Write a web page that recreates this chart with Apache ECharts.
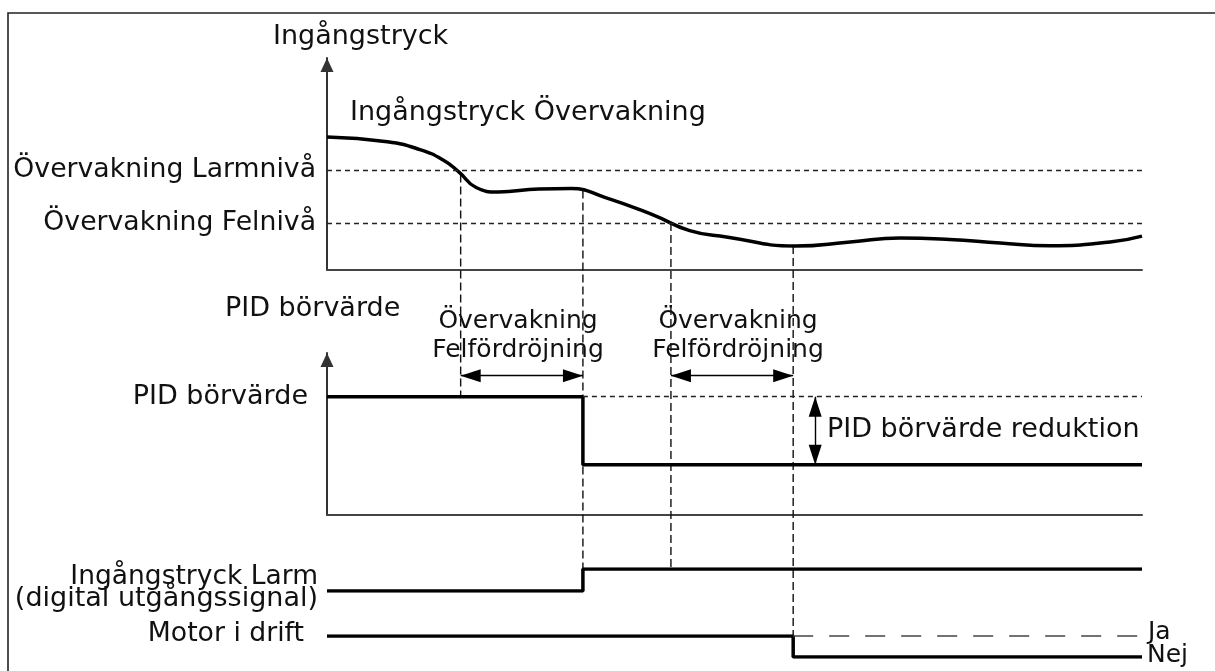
<!DOCTYPE html>
<html>
<head>
<meta charset="utf-8">
<script src="https://cdn.jsdelivr.net/npm/echarts@6/dist/echarts.min.js"></script>
<style>
  html, body { margin: 0; background: #fff; }
  #main { width: 1215px; height: 671px; }
</style>
</head>
<body>
<div id="main"></div>
<script>
// tidsaxel 0..100 (godtyckliga enheter)
// ingångstryck (0..100)
const tryckTid   = [0, 7.4, 11.4, 14.2, 16.2, 18.3, 21.0, 26.0, 30.0, 34.0, 40.0, 44.5, 49.0, 57.5, 64.2, 70.3, 76.4, 82.6, 88.7, 96.1, 100];
const tryckVarde = [62.7, 60.5, 56.8, 52.0, 46.2, 38.9, 36.8, 38.2, 38.4, 34.4, 26.0, 18.6, 15.6, 11.3, 13.2, 15.1, 14.4, 12.7, 11.4, 13.2, 16.0];
const larmniva = 47.2;
const felniva = 22.2;

// händelser (larmnivå passeras, larm, felnivå passeras, stopp)
const haendelseTid = [16.4, 31.4, 42.2, 57.2];
const haendelseTryck = [45.0, 37.5, 22.2, 11.3];

// PID börvärde (0..100)
const pidTid   = [0, 31.4, 100];
const pidVarde = [73, 31, 31];
const pidPilNiva = 86;
const reduktionTid = 59.9;

// digitala signaler
const larmTid   = [0, 31.4, 100];
const larmVarde = [0, 1, 1];
const motorTid   = [0, 57.2, 100];
const motorVarde = [1, 0, 0];

const FONT = '"DejaVu Sans", Verdana, sans-serif';
const zip = (a, b) => a.map((v, i) => [v, b[i]]);

var myChart = echarts.init(document.getElementById('main'));

const axLine = { lineStyle: { color: '#444', width: 2 }, onZero: false };
function xAx(i, show) {
  return { type: 'value', gridIndex: i, min: 0, max: 100, show: show,
    axisLine: axLine, axisTick: { show: false }, axisLabel: { show: false }, splitLine: { show: false } };
}
function yAx(i, show, min, max) {
  return { type: 'value', gridIndex: i, min: min, max: max, show: show,
    axisLine: { show: true, onZero: false, lineStyle: { color: '#333', width: 2 },
      symbol: ['none', 'triangle'], symbolSize: [13, 14], symbolOffset: [0, -7] },
    axisTick: { show: false }, axisLabel: { show: false }, splitLine: { show: false } };
}
const streckad = { color: '#222', width: 1.4, type: [5, 4] };
const pil = { color: '#000', width: 1.4, type: 'solid' };
const signal = { color: '#000', width: 3.5 };

const option = {
  backgroundColor: '#fff',
  animation: false,
  grid: [
    { left: 327, width: 815, top: 58, height: 212 },
    { left: 327, width: 815, top: 353, height: 162 },
    { left: 327, width: 815, top: 569, height: 22 },
    { left: 327, width: 815, top: 636, height: 21 }
  ],
  xAxis: [xAx(0, true), xAx(1, true), xAx(2, false), xAx(3, false)],
  yAxis: [yAx(0, true, 0, 100), yAx(1, true, 0, 100), yAx(2, false, 0, 1), yAx(3, false, 0, 1)],
  series: [
    {
      type: 'line', xAxisIndex: 0, yAxisIndex: 0,
      data: zip(tryckTid, tryckVarde),
      smooth: 0.5, showSymbol: false, z: 3,
      lineStyle: signal,
      markLine: {
        silent: true, symbol: 'none', label: { show: false },
        lineStyle: streckad,
        data: [{ yAxis: larmniva }, { yAxis: felniva }]
      }
    },
    {
      type: 'line', xAxisIndex: 1, yAxisIndex: 1,
      data: zip(pidTid, pidVarde), step: 'end',
      showSymbol: false, z: 3,
      lineStyle: signal,
      markLine: {
        silent: true, label: { show: false },
        symbol: ['triangle', 'triangle'], symbolSize: [13, 20],
        symbolOffset: [[0, 10], [0, 10]],
        lineStyle: pil,
        data: [
          [{ coord: [haendelseTid[0], pidPilNiva] }, { coord: [haendelseTid[1], pidPilNiva] }],
          [{ coord: [haendelseTid[2], pidPilNiva] }, { coord: [haendelseTid[3], pidPilNiva] }],
          [{ coord: [reduktionTid, pidVarde[0]] }, { coord: [reduktionTid, pidVarde[1]] }]
        ]
      }
    },
    {
      type: 'line', xAxisIndex: 1, yAxisIndex: 1, data: [], z: 1,
      markLine: {
        silent: true, symbol: 'none', label: { show: false }, lineStyle: streckad,
        data: [[{ coord: [pidTid[1], pidVarde[0]] }, { coord: [100, pidVarde[0]] }]]
      }
    },
    {
      type: 'line', xAxisIndex: 2, yAxisIndex: 2,
      data: zip(larmTid, larmVarde), step: 'end',
      showSymbol: false, z: 3,
      lineStyle: signal
    },
    {
      type: 'line', xAxisIndex: 3, yAxisIndex: 3,
      data: zip(motorTid, motorVarde), step: 'end',
      showSymbol: false, z: 3,
      lineStyle: signal,
      markLine: {
        silent: true, symbol: 'none', label: { show: false },
        lineStyle: { color: '#444', width: 1.6, type: [20, 16] },
        data: [[{ coord: [motorTid[1], 1] }, { coord: [100, 1] }]]
      }
    }
  ]
};
myChart.setOption(option);

// texter
function text(str, x, y, align, size) {
  return { type: 'text', x: x, y: y, z: 10,
    style: { text: str, font: (size || 27) + 'px ' + FONT, fill: '#111', align: align, verticalAlign: 'middle', lineHeight: 29 } };
}
const graphic = [
  { type: 'rect', shape: { x: 8, y: 13, width: 1400, height: 800 }, style: { fill: 'none', stroke: '#222', lineWidth: 1.6 }, z: 0 },
  text('Ingångstryck', 273, 37, 'left'),
  text('Ingångstryck Övervakning', 350, 113, 'left'),
  text('Övervakning Larmnivå', 316, 170, 'right', 26.7),
  text('Övervakning Felnivå', 316, 223, 'right', 26.7),
  text('PID börvärde', 225, 309, 'left'),
  text('Övervakning\nFelfördröjning', 518, 336, 'center', 25),
  text('Övervakning\nFelfördröjning', 738, 336, 'center', 25),
  text('PID börvärde', 308, 397, 'right'),
  text('PID börvärde reduktion', 827, 430, 'left'),
  text('Ingångstryck Larm', 318, 577, 'right', 26.5),
  text('(digital utgångssignal)', 318, 599, 'right', 27),
  text('Motor i drift', 304, 634, 'right', 26.7),
  text('Ja', 1148, 632, 'left', 25),
  text('Nej', 1147, 655, 'left', 25)
];

// streckade händelselinjer genom alla paneler
const slut = [
  { grid: 1, v: pidVarde[0] },
  { grid: 2, v: larmVarde[2] },
  { grid: 2, v: larmVarde[2] },
  { grid: 3, v: motorVarde[2] }
];
haendelseTid.forEach(function (t, i) {
  const a = myChart.convertToPixel({ gridIndex: 0 }, [t, haendelseTryck[i]]);
  const b = myChart.convertToPixel({ gridIndex: slut[i].grid }, [t, slut[i].v]);
  graphic.push({ type: 'line', z: 1, silent: true,
    shape: { x1: a[0], y1: a[1], x2: b[0], y2: b[1] },
    style: { stroke: '#111', lineWidth: 1.4, lineDash: [8, 4] } });
});
myChart.setOption({ graphic: graphic });
</script>
</body>
</html>
